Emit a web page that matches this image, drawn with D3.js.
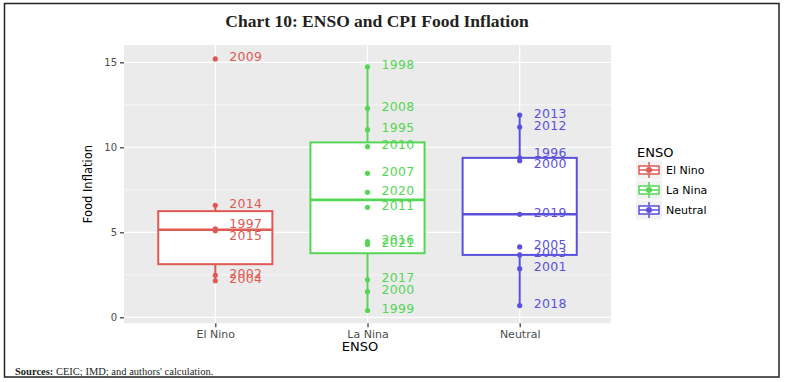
<!DOCTYPE html>
<html>
<head>
<meta charset="utf-8">
<script src="https://cdn.jsdelivr.net/npm/d3@7"></script>
<style>
  html, body { margin: 0; padding: 0; background: #fff; }
  svg { display: block; }
</style>
</head>
<body>
<svg id="chart" width="785" height="382"></svg>
<script>
// ---- data ----
const categories = ["El Nino", "La Nina", "Neutral"];
const colors = ["#DE5A55", "#55D655", "#5B50DB"];

const elNinoYears  = [2009, 2014, 1997, 2015, 2002, 2004];
const elNinoValues = [15.2, 6.59, 5.21, 5.09, 2.47, 2.15];

const laNinaYears  = [1998, 2008, 1995, 2010, 2007, 2020, 2011, 2016, 2021, 2017, 2000, 1999];
const laNinaValues = [14.74, 12.29, 11.04, 10.04, 8.47, 7.35, 6.47, 4.45, 4.29, 2.21, 1.51, 0.40];

const neutralYears  = [2013, 2012, 1996, 2000, 2019, 2005, 2003, 2001, 2018];
const neutralValues = [11.90, 11.19, 9.38, 9.21, 6.06, 4.14, 3.67, 2.86, 0.69];

const yTicks = [0, 5, 10, 15];
const yMinor = [2.5, 7.5, 12.5];

const titleText = "Chart 10: ENSO and CPI Food Inflation";
const yTitle = "Food Inflation";
const xTitle = "ENSO";
const legendTitle = "ENSO";

// labels pushed apart where they would collide (repel-style), in px
const labelRepel = { "El Nino-1997": -3, "El Nino-2015": 7, "Neutral-1996": -3, "Neutral-2000": 5 };

const groups = [
  { cat: categories[0], years: elNinoYears, values: elNinoValues, color: colors[0] },
  { cat: categories[1], years: laNinaYears, values: laNinaValues, color: colors[1] },
  { cat: categories[2], years: neutralYears, values: neutralValues, color: colors[2] }
];

// ---- layout ----
const svg = d3.select("#chart");
const panel = { left: 124, right: 611, top: 45, bottom: 323.3 };

const x = d3.scalePoint().domain(categories).range([panel.left, panel.right]).padding(0.6);
const y = d3.scaleLinear().domain([-0.353, 16.02]).range([panel.bottom, panel.top]);
const boxW = x.step() * 0.75;

// outer frame
svg.append("rect").attr("x", 4.5).attr("y", 3.5).attr("width", 774.5).attr("height", 373.5)
  .attr("fill", "none").attr("stroke", "#222").attr("stroke-width", 1.5);

// title
svg.append("text").attr("x", 377).attr("y", 26.5).attr("text-anchor", "middle")
  .attr("font-family", "Liberation Serif").attr("font-weight", "bold").attr("font-size", 17.5)
  .attr("fill", "#231f20").text(titleText);

// sources
const src = svg.append("text").attr("x", 15).attr("y", 375)
  .attr("font-family", "Liberation Serif").attr("font-size", 10.5).attr("fill", "#231f20");
src.append("tspan").attr("font-weight", "bold").text("Sources:");
src.append("tspan").text(" CEIC; IMD; and authors' calculation.");

// panel background
svg.append("rect").attr("x", panel.left).attr("y", panel.top)
  .attr("width", panel.right - panel.left).attr("height", panel.bottom - panel.top)
  .attr("fill", "#EBEBEB");

// grid
const g = svg.append("g");
yMinor.forEach(v => g.append("line").attr("x1", panel.left).attr("x2", panel.right)
  .attr("y1", y(v)).attr("y2", y(v)).attr("stroke", "#fff").attr("stroke-width", 0.6));
yTicks.forEach(v => g.append("line").attr("x1", panel.left).attr("x2", panel.right)
  .attr("y1", y(v)).attr("y2", y(v)).attr("stroke", "#fff").attr("stroke-width", 1.2));
categories.forEach(c => g.append("line").attr("x1", x(c)).attr("x2", x(c))
  .attr("y1", panel.top).attr("y2", panel.bottom).attr("stroke", "#fff").attr("stroke-width", 1.2));

// axes
const yAxis = d3.axisLeft(y).tickValues(yTicks).tickSize(4).tickPadding(3);
const yg = svg.append("g").attr("transform", `translate(${panel.left},0)`).call(yAxis);
yg.select(".domain").remove();
yg.selectAll(".tick line").attr("stroke", "#333").attr("stroke-width", 1.2);
yg.selectAll(".tick text").attr("fill", "#4D4D4D").attr("font-size", 10)
  .attr("font-family", "DejaVu Sans");

const xAxis = d3.axisBottom(x).tickSize(4).tickPadding(3);
const xg = svg.append("g").attr("transform", `translate(0,${panel.bottom})`).call(xAxis);
xg.select(".domain").remove();
xg.selectAll(".tick line").attr("stroke", "#333").attr("stroke-width", 1.2);
xg.selectAll(".tick text").attr("fill", "#4D4D4D").attr("font-size", 11)
  .attr("font-family", "DejaVu Sans");

// axis titles
svg.append("text").attr("transform", `translate(92,${(panel.top + panel.bottom) / 2}) rotate(-90)`)
  .attr("text-anchor", "middle").attr("font-family", "DejaVu Sans").attr("font-size", 11.5)
  .attr("fill", "#000").text(yTitle);
svg.append("text").attr("x", 360).attr("y", 351).attr("text-anchor", "middle")
  .attr("font-family", "DejaVu Sans").attr("font-size", 13).attr("fill", "#000").text(xTitle);

// boxplots, points, labels
groups.forEach(gr => {
  const sorted = gr.values.slice().sort(d3.ascending);
  const q1 = d3.quantile(sorted, 0.25), med = d3.quantile(sorted, 0.5), q3 = d3.quantile(sorted, 0.75);
  const iqr = q3 - q1;
  const lo = d3.min(sorted.filter(v => v >= q1 - 1.5 * iqr));
  const hi = d3.max(sorted.filter(v => v <= q3 + 1.5 * iqr));
  const cx = x(gr.cat);
  const bg = svg.append("g");
  bg.append("line").attr("x1", cx).attr("x2", cx).attr("y1", y(q3)).attr("y2", y(hi))
    .attr("stroke", gr.color).attr("stroke-width", 2);
  bg.append("line").attr("x1", cx).attr("x2", cx).attr("y1", y(q1)).attr("y2", y(lo))
    .attr("stroke", gr.color).attr("stroke-width", 2);
  bg.append("rect").attr("x", cx - boxW / 2).attr("y", y(q3)).attr("width", boxW)
    .attr("height", y(q1) - y(q3)).attr("fill", "#fff").attr("stroke", gr.color).attr("stroke-width", 2);
  bg.append("line").attr("x1", cx - boxW / 2).attr("x2", cx + boxW / 2).attr("y1", y(med)).attr("y2", y(med))
    .attr("stroke", gr.color).attr("stroke-width", 2.6);
  // points
  bg.selectAll("circle.pt").data(gr.values).enter().append("circle")
    .attr("cx", cx).attr("cy", d => y(d)).attr("r", 2.6).attr("fill", gr.color);
  // labels
  bg.selectAll("text.lbl").data(gr.values.map((v, i) => ({ v, yr: gr.years[i] }))).enter().append("text")
    .attr("x", cx + 14)
    .attr("y", d => y(d.v) - 2 + (labelRepel[gr.cat + "-" + d.yr] || 0)).attr("dy", "0.36em")
    .attr("font-family", "DejaVu Sans").attr("font-size", 12.5).attr("letter-spacing", 0.3)
    .attr("fill", gr.color).text(d => d.yr);
});

// legend
const lg = svg.append("g");
lg.append("text").attr("x", 637).attr("y", 157).attr("font-family", "DejaVu Sans")
  .attr("font-size", 13).attr("fill", "#000").text(legendTitle);
groups.forEach((gr, i) => {
  const cy = 170 + i * 20;
  const kx = 636, kw = 26, kh = 19;
  lg.append("rect").attr("x", kx).attr("y", cy - kh / 2).attr("width", kw).attr("height", kh).attr("fill", "#F2F2F2");
  lg.append("line").attr("x1", kx + kw / 2).attr("x2", kx + kw / 2).attr("y1", cy - 8).attr("y2", cy + 8)
    .attr("stroke", gr.color).attr("stroke-width", 1.5);
  lg.append("rect").attr("x", kx + 3).attr("y", cy - 4).attr("width", kw - 6).attr("height", 8)
    .attr("fill", "#fff").attr("stroke", gr.color).attr("stroke-width", 1.5);
  lg.append("line").attr("x1", kx + 3).attr("x2", kx + kw - 3).attr("y1", cy).attr("y2", cy)
    .attr("stroke", gr.color).attr("stroke-width", 1.5);
  lg.append("circle").attr("cx", kx + kw / 2).attr("cy", cy).attr("r", 3).attr("fill", gr.color);
  lg.append("text").attr("x", 666).attr("y", cy).attr("dy", "0.35em").attr("font-family", "DejaVu Sans")
    .attr("font-size", 11).attr("fill", "#000").text(gr.cat);
});
</script>
</body>
</html>
